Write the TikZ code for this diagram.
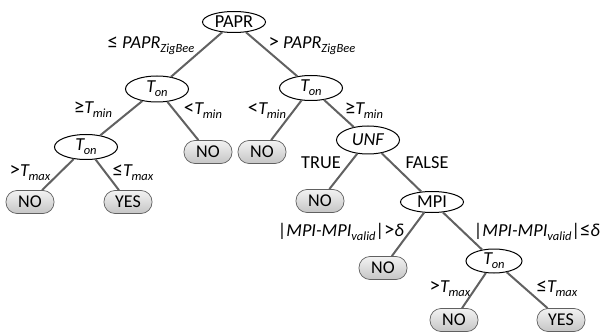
\documentclass[tikz,border=0pt]{standalone}
\usepackage{fontspec}
\setmainfont{Carlito}
\usetikzlibrary{shapes.geometric}
\newcommand{\sbs}[1]{\raisebox{-0.45ex}{\fontsize{12.5}{12.5}\selectfont\itshape #1}}
\newcommand{\rel}[1]{{\fontsize{21}{21}\selectfont #1}}
\newcommand{\Ton}{\textit{T\kern-0.5pt\sbs{on}}}
\newcommand{\Tmin}{\textit{T\kern-0.5pt\sbs{min}}}
\newcommand{\Tmax}{\textit{T\kern-0.5pt\sbs{max}}}
\begin{document}
\begin{tikzpicture}[x=1pt,y=-1pt,
  test/.style={ellipse,draw=black,line width=1pt,fill=white,inner sep=0pt,minimum width=63pt,minimum height=26pt,font=\fontsize{18.3}{18.3}\selectfont},
  leaf/.style={rectangle,rounded corners=11pt,draw=gray!75!black,line width=0.7pt,top color=gray!10,bottom color=gray!45,inner sep=0pt,minimum width=48pt,minimum height=23pt,font=\fontsize{18}{18}\selectfont},
  edge/.style={draw=black!62,line width=2pt},
  lbl/.style={inner sep=0pt,font=\fontsize{18.3}{18.3}\selectfont}]
\useasboundingbox (0,0) rectangle (600,334);
% nodes
\node[test,minimum height=21pt] (papr) at (234,22) {PAPR};
\node[test] (t1) at (157,89) {\Ton};
\node[test,minimum height=25pt] (t2) at (311,88) {\Ton};
\node[test,minimum height=25pt] (t3) at (86,147) {\Ton};
\node[leaf] (n1) at (208,152) {NO};
\node[leaf] (n2) at (262,152) {NO};
\node[test,minimum height=28pt] (unf) at (368,140) {\textit{UNF}};
\node[leaf] (n3) at (30,202) {NO};
\node[leaf] (y1) at (128,202) {YES};
\node[leaf] (n4) at (320,201) {NO};
\node[test,minimum height=21pt] (mpi) at (432,202) {MPI};
\node[leaf] (n5) at (383,268) {NO};
\node[test,minimum width=56pt,minimum height=24pt] (t4) at (494,261) {\Ton};
\node[leaf] (n6) at (454,320) {NO};
\node[leaf] (y2) at (561,320) {YES};
% edges
\path[edge] (papr) -- (t1);
\path[edge] (papr) -- (t2);
\path[edge] (t1) -- (t3);
\path[edge] (t1) -- (n1);
\path[edge] (t2) -- (n2);
\path[edge] (t2) -- (unf);
\path[edge] (t3) -- (n3);
\path[edge] (t3) -- (y1);
\path[edge] (unf) -- (n4);
\path[edge] (unf) -- (mpi);
\path[edge] (mpi) -- (n5);
\path[edge] (mpi) -- (t4);
\path[edge] (t4) -- (n6);
\path[edge] (t4) -- (y2);
% labels
\node[lbl] (l1) at (151,46) {\rel{≤} \textit{PAPR\sbs{ZigBee}}};
\node[lbl] (l2) at (312,46) {\rel{>} \textit{PAPR\sbs{ZigBee}}};
\node[lbl] (l3) at (93,110) {\rel{≥}\Tmin};
\node[lbl] (l4) at (203,111) {\rel{<}\Tmin};
\node[lbl] (l5) at (267,111) {\rel{<}\Tmin};
\node[lbl] (l6) at (364,111) {\rel{≥}\Tmin};
\node[lbl] (l7) at (30,173) {\rel{>}\Tmax};
\node[lbl] (l8) at (133,173) {\rel{≤}\Tmax};
\node[lbl] (l9) at (321,163) {TRUE};
\node[lbl] (l10) at (427,163) {FALSE};
\node[lbl] (l11) at (341,232) {|\textit{MPI-MPI\sbs{valid}}|\rel{>}\textit{δ}};
\node[lbl] (l12) at (537,232) {|\textit{MPI-MPI\sbs{valid}}|\rel{≤}\textit{δ}};
\node[lbl] (l13) at (450,289) {\rel{>}\Tmax};
\node[lbl] (l14) at (557,289) {\rel{≤}\Tmax};
\end{tikzpicture}
\end{document}
